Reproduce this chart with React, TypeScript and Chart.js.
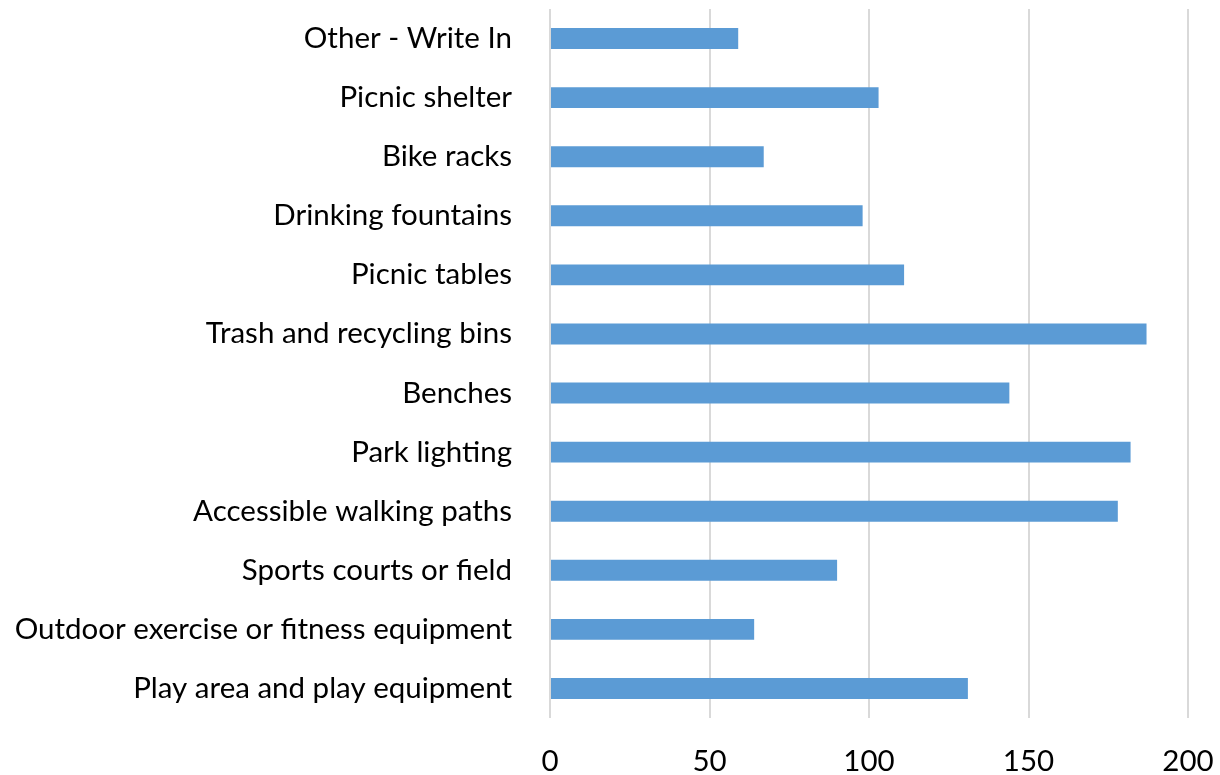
import React, { useEffect, useRef } from "react";
import { Chart, registerables } from "chart.js";

Chart.register(...registerables);

const categories: string[] = [
  "Other - Write In",
  "Picnic shelter",
  "Bike racks",
  "Drinking fountains",
  "Picnic tables",
  "Trash and recycling bins",
  "Benches",
  "Park lighting",
  "Accessible walking paths",
  "Sports courts or field",
  "Outdoor exercise or fitness equipment",
  "Play area and play equipment",
];

const counts: number[] = [59, 103, 67, 98, 111, 187, 144, 182, 178, 90, 64, 131];

const xTickValues: number[] = [0, 50, 100, 150, 200];

export default function App() {
  const canvasRef = useRef<HTMLCanvasElement | null>(null);

  useEffect(() => {
    document.body.style.margin = "0";
    const canvas = canvasRef.current;
    if (!canvas) return;
    const font = { family: "Lato, 'Open Sans', sans-serif", size: 29.5 };
    const chart = new Chart(canvas, {
      type: "bar",
      data: {
        labels: categories,
        datasets: [
          {
            data: counts,
            backgroundColor: "#5B9BD5",
            borderWidth: 0,
            categoryPercentage: 1,
            barPercentage: 0.355,
          },
        ],
      },
      options: {
        indexAxis: "y",
        animation: false,
        responsive: false,
        maintainAspectRatio: false,
        layout: { padding: { top: 9, right: 32, bottom: 0, left: 0 } },
        plugins: {
          legend: { display: false },
          tooltip: { enabled: false },
          title: { display: false },
        },
        scales: {
          x: {
            type: "linear",
            min: 0,
            max: 200,
            afterBuildTicks: (scale: any) => {
              scale.ticks = xTickValues.map((v) => ({ value: v }));
            },
            afterFit: (scale: any) => {
              scale.height = 57;
              scale.paddingLeft = 0;
              scale.paddingRight = 0;
            },
            grid: {
              color: "#d9d9d9",
              lineWidth: 2,
              drawTicks: false,
            },
            border: { display: false },
            ticks: {
              color: "#000",
              font,
              padding: 26,
              maxRotation: 0,
            },
          },
          y: {
            afterFit: (scale: any) => {
              scale.width = 550;
              scale.paddingTop = 0;
              scale.paddingBottom = 0;
            },
            grid: { display: false, drawTicks: false },
            border: { display: false },
            ticks: {
              color: "#000",
              font,
              padding: 38,
              autoSkip: false,
            },
          },
        },
      },
    });
    return () => chart.destroy();
  }, []);

  return (
    <div style={{ position: "absolute", left: 0, top: 0, width: 1220, height: 775, background: "#fff" }}>
      <canvas ref={canvasRef} width={1220} height={775} style={{ display: "block" }} />
    </div>
  );
}
